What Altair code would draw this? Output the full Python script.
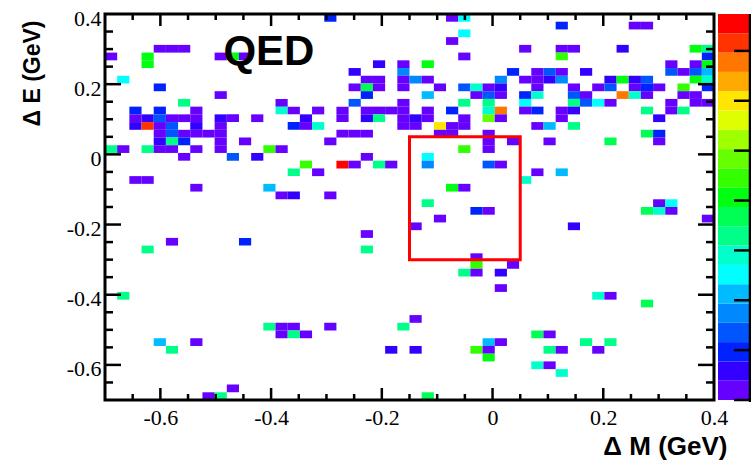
import altair as alt
import pandas as pd

# ---- axis ranges / binning (50 x 50 bins) ----
X_MIN, X_MAX = -0.7, 0.4
Y_MIN, Y_MAX = -0.7, 0.4
N_BINS = 50

# ---- filled bins: column index (left->right), row index (top->bottom), colour level (0..19) ----
cell_col = [
    18, 28, 29,
    37, 43, 44,
    29,
    28,
    4, 5, 6, 34, 37, 38, 42, 48, 49,
    0, 3, 9, 10, 11, 29, 37, 49,
    3, 22, 24, 26, 46, 48, 49,
    20, 24, 33, 35, 36, 37, 39, 46, 47, 48, 49,
    1, 21, 22, 24, 25, 26, 32, 34, 35, 36, 37, 41, 42, 43, 44, 48, 49,
    4, 20, 21, 22, 24, 27, 29, 30, 31, 32, 35, 38, 40, 41, 43, 44, 45, 47, 49,
    9, 21, 26, 30, 31, 32, 34, 35, 38, 39, 42, 43, 44, 47, 48,
    6, 14, 20, 24, 29, 31, 34, 38, 39, 40, 41, 46, 48, 49,
    2, 4, 7, 14, 15, 17, 19, 21, 22, 23, 24, 26, 28, 31, 32, 34, 35, 37, 38, 44, 46, 47,
    2, 3, 4, 5, 6, 7, 9, 10, 12, 16, 19, 21, 22, 24, 25, 26, 29, 31, 32, 37, 45,
    2, 3, 4, 5, 7, 9, 15, 16, 17, 24, 25, 27, 28, 29, 35, 36, 38,
    4, 5, 6, 7, 8, 9, 19, 20, 21, 27, 28, 31, 44, 45,
    4, 5, 6, 9, 11, 18, 31, 33, 36, 41, 45,
    0, 1, 3, 4, 5, 7, 9, 13, 14, 29, 31,
    6, 10, 12, 21, 26,
    16, 19, 20, 22, 23, 26, 31, 32,
    15, 17, 35, 37,
    2, 3, 34,
    7, 13, 28, 29,
    14, 15, 18,
    26, 45, 46,
    30, 31, 44, 45, 46,
    27, 49,
    25, 38,
    21,
    5, 11,
    3, 21,
    30,
    30, 33,
    29, 30, 32,
    32,
    1, 40, 41,
    44,
    25,
    13, 14, 15, 18, 24,
    14, 15, 16, 35, 36,
    4, 7, 31, 32, 39, 41,
    5, 23, 25, 30, 31, 36, 37, 40,
    31,
    35, 36,
    37,
    10,
    8, 9, 26,
]
# (row index from top, number of filled bins in that row)
cell_row_counts = [
    (0, 3), (1, 3), (2, 1), (3, 1), (4, 9), (5, 8), (6, 7), (7, 11), (8, 17),
    (9, 19), (10, 15), (11, 14), (12, 22), (13, 21), (14, 17), (15, 14), (16, 11),
    (17, 11), (18, 5), (19, 8), (20, 4), (21, 3), (22, 4), (23, 3), (24, 3),
    (25, 5), (26, 2), (27, 2), (28, 1), (29, 2), (30, 2), (31, 1), (32, 2),
    (33, 3), (35, 1), (36, 3), (37, 1), (39, 1), (40, 5), (41, 5), (42, 6),
    (43, 8), (44, 1), (45, 2), (46, 1), (48, 1), (49, 3),
]
cell_level = [
    2, 0, 6,
    2, 0, 0,
    6,
    0,
    0, 0, 0, 0, 0, 0, 1, 10, 8,
    0, 10, 0, 10, 0, 0, 11, 2,
    10, 1, 0, 10, 0, 0, 10,
    1, 4, 2, 0, 3, 0, 1, 3, 0, 3, 5,
    6, 0, 0, 0, 4, 0, 4, 0, 0, 1, 4, 1, 10, 1, 3, 10, 7,
    2, 0, 9, 0, 0, 0, 3, 7, 0, 1, 0, 0, 0, 3, 0, 2, 0, 11, 2,
    0, 2, 5, 0, 3, 0, 2, 7, 3, 0, 17, 7, 0, 0, 0,
    8, 0, 3, 0, 8, 8, 6, 8, 3, 6, 0, 0, 0, 0,
    2, 2, 0, 7, 0, 0, 0, 0, 0, 0, 0, 0, 2, 7, 17, 0, 2, 0, 1, 8, 0, 8,
    0, 1, 3, 0, 0, 0, 1, 0, 0, 1, 0, 1, 8, 0, 1, 0, 0, 12, 0, 0, 1,
    1, 18, 0, 3, 1, 0, 2, 0, 7, 0, 0, 15, 0, 0, 0, 5, 8,
    0, 3, 0, 0, 0, 0, 0, 0, 0, 0, 0, 0, 9, 2,
    1, 8, 2, 0, 0, 0, 0, 0, 0, 9, 0,
    8, 0, 8, 0, 0, 0, 0, 11, 0, 11, 0,
    0, 3, 1, 0, 6,
    11, 19, 0, 8, 0, 4, 3, 0,
    8, 0, 0, 5,
    0, 0, 7,
    0, 5, 10, 0,
    0, 1, 0,
    8, 0, 6,
    2, 0, 9, 7, 0,
    0, 0,
    0, 1,
    0,
    0, 2,
    8, 8,
    0,
    11, 0,
    8, 0, 1,
    0,
    8, 7, 0,
    9,
    0,
    8, 0, 0, 0, 8,
    0, 8, 0, 9, 0,
    5, 0, 5, 0, 8, 8,
    8, 1, 1, 11, 0, 8, 0, 0,
    10,
    7, 0,
    7,
    0,
    0, 8, 9,
]

# ---- ROOT rainbow palette, 20 contours (bottom -> top) ----
palette = [
    "#6600FF", "#3300FF", "#0022FF", "#0055FF", "#0088FF",
    "#00BBFF", "#00FFFF", "#00FFCC", "#00FF88", "#00FF55",
    "#00FF11", "#33FF00", "#66FF00", "#A0FF00", "#DDFF00",
    "#FFE600", "#FFAA00", "#FF7700", "#FF3300", "#FF0000",
]
Z_MAX = 7.74
palette_ticks = [0, 1, 2, 3, 4, 5, 6, 7]

# ---- signal box ----
box_x = [-0.15, 0.05]
box_y = [-0.3, 0.05]

# ---- axis labels / tick positions ----
x_labels = [-0.6, -0.4, -0.2, 0.0, 0.2, 0.4]
y_labels = [-0.6, -0.4, -0.2, 0.0, 0.2, 0.4]
major_ticks = [-0.6, -0.4, -0.2, 0.0, 0.2]
minor_ticks = [-0.65, -0.55, -0.5, -0.45, -0.35, -0.3, -0.25, -0.15,
               -0.1, -0.05, 0.05, 0.1, 0.15, 0.25, 0.3, 0.35]

qed_label = ["QED"]
qed_x = [-0.404]
qed_y = [0.255]

# ---------------------------------------------------------------
W, H = 609, 386

rows = []
for r, n in cell_row_counts:
    rows += [r] * n
assert len(rows) == len(cell_col) == len(cell_level)

bwx = (X_MAX - X_MIN) / N_BINS
bwy = (Y_MAX - Y_MIN) / N_BINS
cells = pd.DataFrame({
    "x0": [X_MIN + c * bwx for c in cell_col],
    "x1": [X_MIN + (c + 1) * bwx for c in cell_col],
    "y1": [Y_MAX - r * bwy for r in rows],
    "y0": [Y_MAX - (r + 1) * bwy for r in rows],
    "level": cell_level,
})

xs = alt.Scale(domain=[X_MIN, X_MAX], nice=False, zero=False)
ys = alt.Scale(domain=[Y_MIN, Y_MAX], nice=False, zero=False)
cs = alt.Scale(domain=list(range(len(palette))), range=palette)

lab_expr = ("datum.value < 0 ? '-' + format(-datum.value, '.1~f') "
            ": format(datum.value, '.1~f')")

x_axis = alt.Axis(
    values=x_labels, ticks=False, domain=False, grid=False,
    labelFont="Liberation Serif", labelFontSize=22, labelColor="black",
    labelPadding=7, labelFlush=False, labelOverlap=False, labelExpr=lab_expr,
    title="\u0394 M (GeV)", titleFont="Liberation Sans", titleFontWeight="bold",
    titleFontSize=26, titleColor="black", titleX=622, titleY=54,
    titleAlign="right", titleBaseline="alphabetic",
)
y_axis = alt.Axis(
    values=y_labels, ticks=False, domain=False, grid=False,
    labelFont="Liberation Serif", labelFontSize=22, labelColor="black",
    labelPadding=4, labelFlush=False, labelOverlap=False, labelExpr=lab_expr,
    labelBaseline="middle", labelOffset=4,
    title="\u0394 E (GeV)", titleFont="Liberation Sans", titleFontWeight="bold",
    titleFontSize=23, titleColor="black", titleAngle=270, titleX=-66, titleY=6,
    titleAlign="right", titleBaseline="alphabetic",
)


def X(field):
    return alt.X(field, scale=xs, axis=x_axis)


def Y(field):
    return alt.Y(field, scale=ys, axis=y_axis)


cell_layer = alt.Chart(cells).mark_rect(strokeWidth=0).encode(
    x=X("x0:Q"), x2="x1:Q",
    y=Y("y0:Q"), y2="y1:Q",
    color=alt.Color("level:O", scale=cs, legend=None),
)

qed_layer = alt.Chart(pd.DataFrame({"x": qed_x, "y": qed_y, "t": qed_label})).mark_text(
    font="Liberation Sans", fontWeight="bold", fontSize=42, align="center",
    baseline="alphabetic", color="black",
).encode(x=X("x:Q"), y=Y("y:Q"), text="t:N")

box_layer = alt.Chart(pd.DataFrame({
    "x0": [box_x[0]], "x1": [box_x[1]], "y0": [box_y[0]], "y1": [box_y[1]]
})).mark_rect(fillOpacity=0, stroke="#FF0000", strokeWidth=3).encode(
    x=X("x0:Q"), x2="x1:Q", y=Y("y0:Q"), y2="y1:Q",
)

# frame of the plot area
frame_layer = alt.Chart(pd.DataFrame({
    "x0": [X_MIN], "x1": [X_MAX], "y0": [Y_MIN], "y1": [Y_MAX]
})).mark_rect(fillOpacity=0, stroke="black", strokeWidth=3).encode(
    x=X("x0:Q"), x2="x1:Q", y=Y("y0:Q"), y2="y1:Q",
)

# inward tick marks on all four sides (lengths in pixels)
X_MAJ_LEN, X_MIN_LEN = 12, 6
Y_MAJ_LEN, Y_MIN_LEN = 16, 8


def xticks(values, y_from, y_to):
    return alt.Chart(pd.DataFrame({"v": values})).mark_rule(
        color="black", strokeWidth=2.5).encode(
        x=X("v:Q"), y=alt.value(y_from), y2=alt.value(y_to))


def yticks(values, x_from, x_to):
    return alt.Chart(pd.DataFrame({"v": values})).mark_rule(
        color="black", strokeWidth=2.5).encode(
        y=Y("v:Q"), x=alt.value(x_from), x2=alt.value(x_to))


tick_layers = [
    xticks(major_ticks, H, H - X_MAJ_LEN), xticks(minor_ticks, H, H - X_MIN_LEN),
    xticks(major_ticks, 0, X_MAJ_LEN), xticks(minor_ticks, 0, X_MIN_LEN),
    yticks(major_ticks, 0, Y_MAJ_LEN), yticks(minor_ticks, 0, Y_MIN_LEN),
    yticks(major_ticks, W, W - Y_MAJ_LEN), yticks(minor_ticks, W, W - Y_MIN_LEN),
]


# ---- colour bar: palette values placed along the frame height ----
def z_to_frame(z):
    return Y_MIN + (Y_MAX - Y_MIN) * z / Z_MAX


n_lev = len(palette)
cbar_df = pd.DataFrame({
    "level": list(range(n_lev)),
    "lo": [z_to_frame(k * Z_MAX / n_lev) for k in range(n_lev)],
    "hi": [z_to_frame((k + 1) * Z_MAX / n_lev) for k in range(n_lev)],
})
cbar_rects = alt.Chart(cbar_df).mark_rect(strokeWidth=0).encode(
    x=alt.value(613), x2=alt.value(645),
    y=Y("lo:Q"), y2="hi:Q",
    color=alt.Color("level:O", scale=cs, legend=None),
)
cbar_ticks = alt.Chart(pd.DataFrame({"t": [z_to_frame(t) for t in palette_ticks]})).mark_rule(
    color="black", strokeWidth=2.5).encode(
    x=alt.value(629), x2=alt.value(645), y=Y("t:Q"),
)
cbar_edge = alt.Chart(pd.DataFrame({"a": [0]})).mark_rule(
    color="black", strokeWidth=2.5).encode(
    x=alt.value(645), y=alt.value(0), y2=alt.value(H + 2),
)

chart = alt.layer(
    cell_layer, qed_layer, box_layer, *tick_layers, frame_layer,
    cbar_rects, cbar_ticks, cbar_edge,
).properties(
    width=W, height=H,
    padding={"left": 105, "top": 14, "right": 37, "bottom": 63},
    autosize=alt.AutoSizeParams(type="none"),
    background="white",
).configure_view(strokeWidth=0)

chart.save("out.html", embed_options={"renderer": "svg", "actions": False})
